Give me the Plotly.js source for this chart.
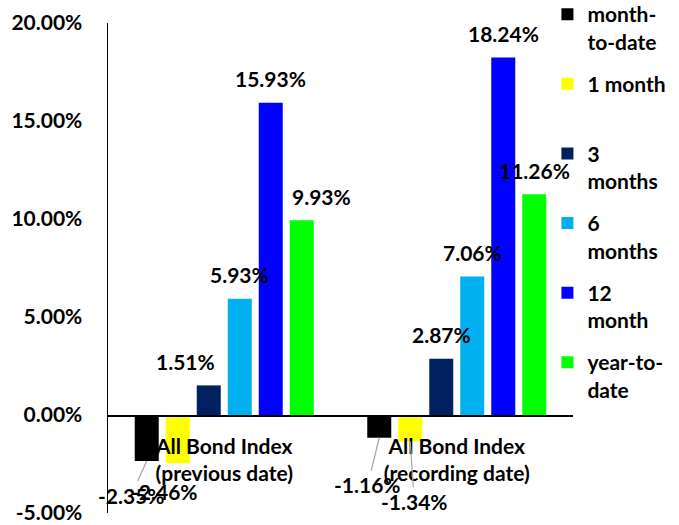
<!DOCTYPE html>
<html>
<head>
<meta charset="utf-8">
<script src="https://cdn.plot.ly/plotly-3.0.1.min.js"></script>
<style>html,body{margin:0;padding:0;background:#fff;}#chart{width:679px;height:525px;}</style>
</head>
<body>
<div id="chart"></div>
<script>
// ---- data ----
const categories = ['All Bond Index<br>(previous date)', 'All Bond Index<br>(recording date)'];
const seriesNames = ['month-<br>to-date', '1 month<br>&nbsp;', '3<br>months', '6<br>months', '12<br>month', 'year-to-<br>date'];
const monthToDate = [-2.35, -1.16];
const oneMonth = [-2.46, -1.34];
const threeMonths = [1.51, 2.87];
const sixMonths = [5.93, 7.06];
const twelveMonth = [15.93, 18.24];
const yearToDate = [9.93, 11.26];
const yTickVals = [-5, 0, 5, 10, 15, 20];
const yTickText = ['-5.00%', '0.00%', '5.00%', '10.00%', '15.00%', '20.00%'];

// ---- styling ----
const seriesValues = [monthToDate, oneMonth, threeMonths, sixMonths, twelveMonth, yearToDate];
const colors = ['#000000', '#FFFF00', '#002060', '#00B0F0', '#0000FF', '#00FF00'];
const FONT = {family: 'Lato, "Open Sans", sans-serif', size: 21, color: '#000000', weight: 'bold'};
const barStep = 31; // pixel step between bars of one group
// label nudges (pixels) for specific labels
const posNudge = {'2,0': -23, '5,0': 20};
const negLabel = {
  '0,0': {ax: -15.5, ay: 34, line: true},
  '1,0': {ax: -13, ay: 28, line: false},
  '0,1': {ax: -11.5, ay: 47, line: true},
  '1,1': {ax: 4, ay: 60, line: true}
};

const traces = seriesValues.map((vals, i) => ({
  type: 'bar',
  name: seriesNames[i],
  x: categories,
  y: vals,
  marker: {color: colors[i], line: {width: 0}},
  legendgroup: 'g' + i,
  hoverinfo: 'skip'
}));

const annotations = [];
seriesValues.forEach((vals, i) => {
  vals.forEach((v, j) => {
    const off = (i - 2.5) * barStep;
    const key = i + ',' + j;
    const txt = v.toFixed(2) + '%';
    if (v >= 0) {
      annotations.push({
        x: categories[j], y: v, xref: 'x', yref: 'y', text: txt,
        showarrow: false, xanchor: 'center', yanchor: 'middle',
        xshift: off + (posNudge[key] || 0), yshift: 24, font: FONT
      });
    } else {
      const n = negLabel[key];
      annotations.push({
        x: categories[j], y: v, xref: 'x', yref: 'y', text: txt,
        showarrow: true, arrowhead: 0, arrowwidth: 1.2,
        arrowcolor: n.line ? '#A6A6A6' : 'rgba(0,0,0,0)',
        ax: n.ax, ay: n.ay, axref: 'pixel', ayref: 'pixel',
        xshift: off, font: FONT
      });
    }
  });
});

const layout = {
  width: 679, height: 525,
  margin: {l: 108, r: 106, t: 23, b: 12, pad: 0, autoexpand: false},
  paper_bgcolor: '#ffffff', plot_bgcolor: '#ffffff',
  font: FONT,
  barmode: 'group', bargap: 0.2, bargroupgap: 0.226,
  showlegend: true,
  legend: {
    x: 0.945, xanchor: 'left', y: 1.059, yref: 'paper', yanchor: 'top',
    font: FONT, valign: 'top', traceorder: 'grouped', tracegroupgap: 12,
    bgcolor: 'rgba(0,0,0,0)', borderwidth: 0, maxheight: 600
  },
  xaxis: {
    type: 'category', range: [-0.5, 1.5], autorange: false,
    anchor: 'free', position: 0.2,
    showline: true, linecolor: '#000000', linewidth: 1.5,
    showgrid: false, zeroline: false, ticks: '', tickfont: FONT,
    ticklabelstandoff: 12
  },
  yaxis: {
    range: [-5, 20], autorange: false, tickvals: yTickVals, ticktext: yTickText,
    showline: true, linecolor: '#000000', linewidth: 1.5,
    showgrid: false, zeroline: false, ticks: '', tickfont: FONT,
    ticklabelstandoff: 20
  },
  annotations: annotations
};

Plotly.newPlot('chart', traces, layout, {staticPlot: true, displayModeBar: false});
</script>
</body>
</html>
